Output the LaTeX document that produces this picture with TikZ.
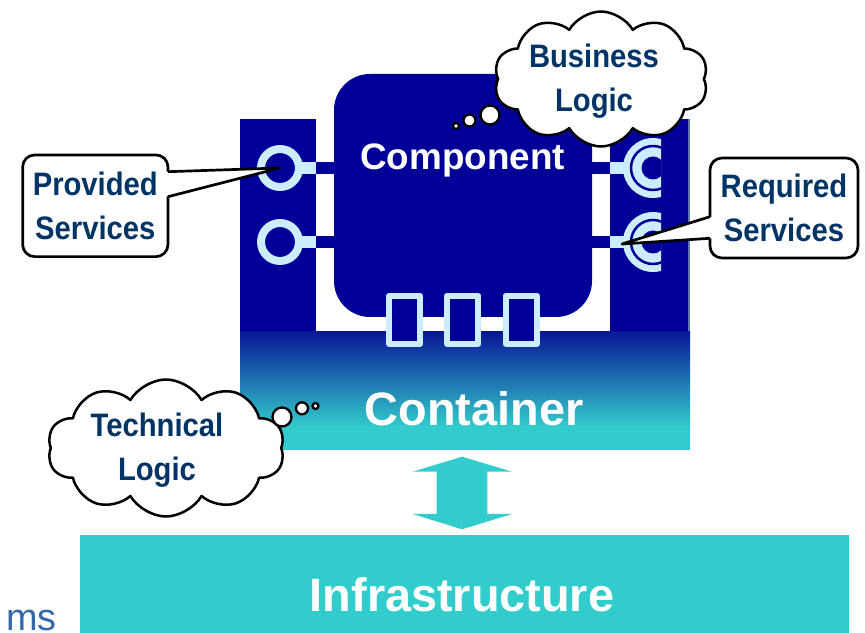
\documentclass[tikz,border=0pt]{standalone}
\usepackage{fontspec}
\setmainfont{Liberation Sans}
\newfontfamily\narrowsf[FakeStretch=0.9]{Liberation Sans}
\usepackage{tikz}
\usetikzlibrary{shapes,shapes.symbols}

\definecolor{compblue}{RGB}{0,0,153}
\definecolor{paleblue}{RGB}{204,236,255}
\definecolor{tealc}{RGB}{51,204,204}
\definecolor{conttop}{RGB}{8,24,150}
\definecolor{edgeblue}{RGB}{90,120,175}
\definecolor{labelblue}{RGB}{0,51,102}
\definecolor{msblue}{RGB}{51,102,170}

\begin{document}
\begin{tikzpicture}[line join=round,
  callout/.style={draw=black,fill=white,line width=2.7bp,rounded corners=12bp,inner sep=0pt,align=center,text=labelblue,font=\narrowsf\bfseries\fontsize{32.6}{43.5}\selectfont},
  thinklab/.style={inner sep=0pt,align=center,text=labelblue,font=\narrowsf\bfseries\fontsize{32.6}{44.5}\selectfont},
  thought/.style={cloud,draw=black,fill=white,line width=2.5bp,cloud puffs=10,cloud puff arc=120,cloud ignores aspect,inner sep=0pt},
  bubble/.style={circle,draw=black,fill=white,line width=2.3bp,inner sep=0pt},
  lolli/.style={circle,draw=paleblue,fill=compblue,line width=8bp,minimum size=38bp,inner sep=0pt},
  port/.style={rectangle,draw=paleblue,fill=compblue,line width=6bp,minimum width=31.3bp,minimum height=48bp,inner sep=0pt},
  bigwhite/.style={anchor=base,inner sep=0pt,text=white,font=\bfseries\fontsize{47}{50}\selectfont}]
%%
\useasboundingbox (0bp,0bp) rectangle (865bp,633bp);
%% infrastructure and link
  \node (infra) at (464.5bp,49bp) [fill=tealc,minimum width=769bp,minimum height=98bp,inner sep=0pt] {};
  \node (infralab) at (462bp,21.3bp) [bigwhite] {Infrastructure};
  \node (ms) at (57bp,2.5bp) [anchor=base east,inner sep=0pt,text=msblue,font=\fontsize{38}{42}\selectfont] {ms};
  \fill [tealc] (462bp,176.3bp) -- (512bp,161.3bp) -- (487.3bp,161.3bp) -- (487.3bp,119bp) -- (512bp,119bp)
    -- (462bp,103.7bp) -- (412.7bp,119bp) -- (436.7bp,119bp) -- (436.7bp,161.3bp) -- (412.7bp,161.3bp) -- cycle;
%% container
\begin{scope}
  \fill [compblue] (240bp,301bp) rectangle (316bp,514bp);
  \fill [compblue] (610bp,301bp) rectangle (690bp,514bp);
  \draw [edgeblue,line width=2bp] (689bp,301bp) -- (689bp,514bp);
  \shade [top color=conttop,bottom color=tealc] (240bp,206bp) rectangle (690bp,301bp);
  \fill [tealc] (240bp,183bp) rectangle (690bp,206.5bp);
  \node (contlab) at (474bp,207bp) [bigwhite] {Container};
\end{scope}
%% component
  \node (comp) at (463bp,437.5bp) [rectangle,rounded corners=36bp,fill=compblue,minimum width=258bp,minimum height=243bp,inner sep=0pt] {};
  \node (complab) at (462.5bp,463bp) [anchor=base,inner sep=0pt,text=white,font=\bfseries\fontsize{37}{40}\selectfont] {Component};
%% provided and required interfaces
  \fill [paleblue] (300bp,459bp) rectangle (316bp,471bp);
  \fill [compblue] (316bp,459bp) rectangle (334bp,471bp);
  \fill [paleblue] (300bp,385bp) rectangle (316bp,397bp);
  \fill [compblue] (316bp,385bp) rectangle (334bp,397bp);
  \fill [compblue] (592bp,459bp) rectangle (610bp,471bp);
  \fill [paleblue] (610bp,459bp) rectangle (628bp,471bp);
  \fill [compblue] (592bp,385bp) rectangle (610bp,397bp);
  \fill [paleblue] (610bp,385bp) rectangle (628bp,397bp);
  \node (pc1) at (280bp,465bp) [lolli] {};
  \node (pc2) at (280bp,391bp) [lolli] {};
  \coordinate (rs1) at (653bp,465bp);
  \coordinate (rs2) at (653bp,391bp);
\begin{scope}
  \clip (600bp,340bp) rectangle (661bp,520bp);
  \fill [paleblue] (rs1) circle (30bp);
  \draw [compblue,line width=2.5bp] (rs1) circle (22bp);
  \fill [compblue] (rs1) circle (11.5bp);
  \fill [paleblue] (rs2) circle (30bp);
  \draw [compblue,line width=2.5bp] (rs2) circle (22bp);
  \fill [compblue] (rs2) circle (11.5bp);
\end{scope}
  \node (port1) at (404.7bp,313.3bp) [port] {};
  \node (port2) at (462.8bp,313.3bp) [port] {};
  \node (port3) at (521.2bp,313.3bp) [port] {};
%% thoughts
  \node (bcloud) at (601bp,554bp) [thought,minimum width=214bp,minimum height=135bp] {};
  \node (blogic) at (594bp,552bp) [thinklab] {Business\\Logic};
  \node (bb1) at (456bp,507bp) [bubble,minimum size=6bp] {};
  \node (bb2) at (469.5bp,512.5bp) [bubble,minimum size=12bp] {};
  \node (bb3) at (490bp,518bp) [bubble,minimum size=19bp] {};
  \node (tcloud) at (166bp,185bp) [thought,minimum width=237bp,minimum height=137bp] {};
  \node (tlogic) at (157bp,183bp) [thinklab] {Technical\\Logic};
  \node (tb1) at (282bp,216bp) [bubble,minimum size=19bp] {};
  \node (tb2) at (302bp,224.7bp) [bubble,minimum size=12bp] {};
  \node (tb3) at (315.5bp,227bp) [bubble,minimum size=6bp] {};
%% callouts
  \node (prov) at (95.3bp,427.2bp) [callout,minimum width=145.3bp,minimum height=101.7bp] {Provided\\Services};
  \coordinate (provA) at (168bp,461.3bp);
  \coordinate (provB) at (168bp,436.3bp);
  \fill [white] ([xshift=-2.5bp]provA) -- (pc1.center) -- ([xshift=-2.5bp]provB) -- cycle;
  \draw [line width=2.7bp] (provA) -- (pc1.center) -- (provB);
  \node (req) at (784bp,425bp) [callout,minimum width=148bp,minimum height=100bp] {Required\\Services};
  \coordinate (reqA) at (710bp,416.3bp);
  \coordinate (reqB) at (710bp,394.7bp);
  \coordinate (reqtip) at (622bp,389bp);
  \fill [white] ([xshift=2.5bp]reqA) -- (reqtip) -- ([xshift=2.5bp]reqB) -- cycle;
  \draw [line width=2.7bp] (reqA) -- (reqtip) -- (reqB);
%
\end{tikzpicture}
\end{document}
